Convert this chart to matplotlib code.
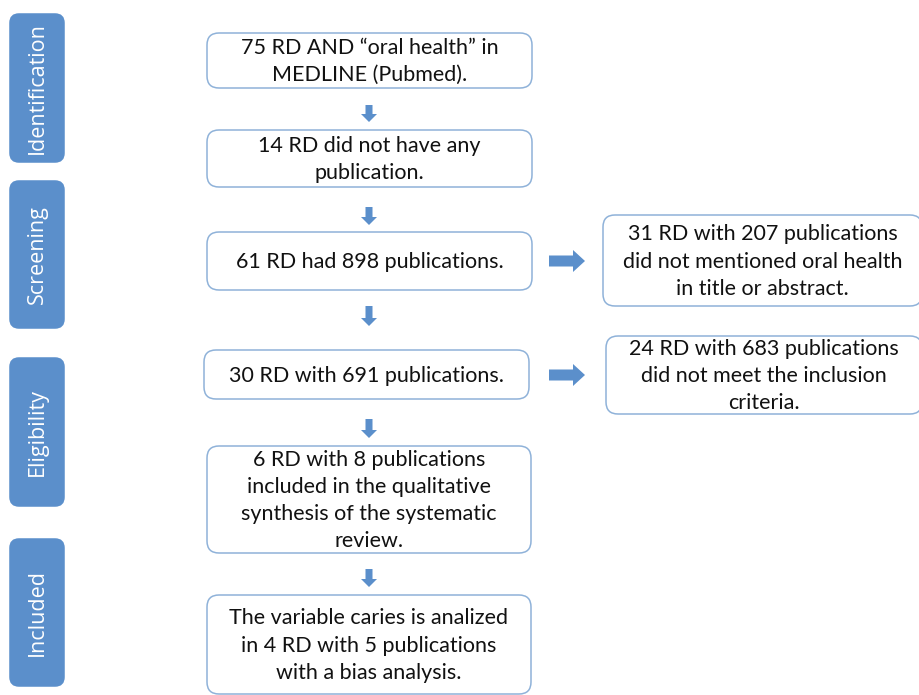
import matplotlib.pyplot as plt
from matplotlib.patches import FancyBboxPatch, FancyArrow

# stage labels on the left
stages = ['Identification', 'Screening', 'Eligibility', 'Included']

# main column texts
main_texts = [
    '75 RD AND \u201coral health\u201d in\nMEDLINE (Pubmed).',
    '14 RD did not have any\npublication.',
    '61 RD had 898 publications.',
    '30 RD with 691 publications.',
    '6 RD with 8 publications\nincluded in the qualitative\nsynthesis of the systematic\nreview.',
    'The variable caries is analized\nin 4 RD with 5 publications\nwith a bias analysis.',
]

# excluded boxes on the right
side_texts = [
    '31 RD with 207 publications\ndid not mentioned oral health\nin title or abstract.',
    '24 RD with 683 publications\ndid not meet the inclusion\ncriteria.',
]

# layout in pixels (x0, y0, x1, y1)
stage_boxes = [(10, 14, 64, 162), (10, 181, 64, 328), (10, 358, 64, 506), (10, 539, 64, 686)]
main_boxes = [(207, 33, 532, 88), (207, 130, 532, 187), (207, 232, 532, 290),
              (204, 350, 529, 399), (207, 446, 531, 553), (207, 595, 531, 694)]
side_boxes = [(603, 215, 922, 306), (606, 336, 922, 414)]
down_arrows = [(105, 122), (207, 225), (306, 326), (419, 438), (569, 587)]
right_arrows = [261, 375]

blue = '#5b8fcb'
edge = '#8fb2d9'
plt.rcParams['font.family'] = ['Lato', 'DejaVu Sans']

fig = plt.figure(figsize=(9.2, 6.95), dpi=100)
ax = fig.add_axes([0, 0, 1, 1])
ax.set_xlim(0, 920)
ax.set_ylim(695, 0)
ax.axis('off')


def rbox(b, fc, ec, r):
    x0, y0, x1, y1 = b
    p = FancyBboxPatch((x0 + r, y0 + r), x1 - x0 - 2 * r, y1 - y0 - 2 * r,
                       boxstyle='round,pad=%g' % r, fc=fc, ec=ec, lw=1.1)
    ax.add_patch(p)


for lab, b in zip(stages, stage_boxes):
    rbox(b, blue, blue, 9)
    ax.text((b[0] + b[2]) / 2, (b[1] + b[3]) / 2, lab, rotation=90, color='white',
            ha='center', va='center', fontsize=15.5, family=['Open Sans', 'DejaVu Sans'])

for t, b in zip(main_texts + side_texts, main_boxes + side_boxes):
    rbox(b, 'white', edge, 12)
    ax.text((b[0] + b[2]) / 2, (b[1] + b[3]) / 2 + 1, t, ha='center', va='center',
            fontsize=15.5, linespacing=1.45, color='#111111')

for y0, y1 in down_arrows:
    ax.add_patch(FancyArrow(369, y0, 0, y1 - y0, width=7, head_width=16,
                            head_length=8, length_includes_head=True, fc=blue, ec='none'))

for y in right_arrows:
    ax.add_patch(FancyArrow(549, y, 36, 0, width=11, head_width=22,
                            head_length=12, length_includes_head=True, fc=blue, ec='none'))

fig.savefig('out.png', dpi=100)
